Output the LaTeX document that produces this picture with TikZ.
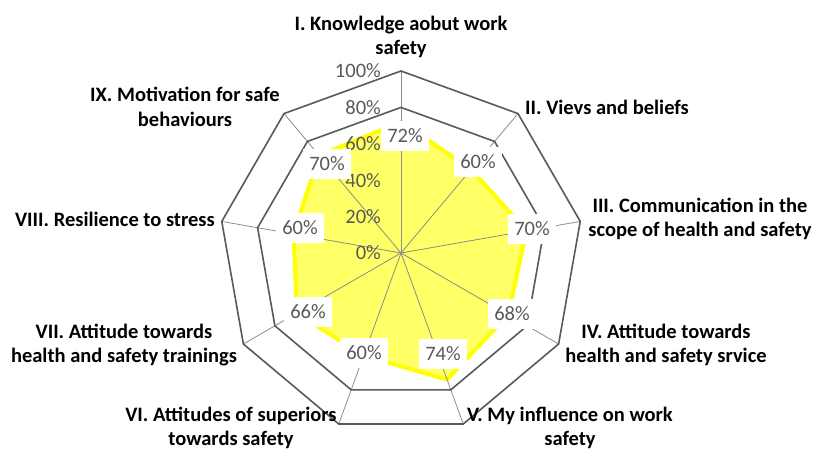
\documentclass[tikz,border=0pt]{standalone}
\usepackage{fontspec}
\setmainfont{Carlito}
\usetikzlibrary{calc}
\usetikzlibrary{positioning}

\definecolor{gridgray}{HTML}{595959}
\definecolor{spokegray}{HTML}{8C8C8C}
\definecolor{labelgray}{HTML}{595959}
\definecolor{areafill}{HTML}{FFFF66}
\definecolor{areaedge}{HTML}{FFFF00}

\begin{document}
\begin{tikzpicture}[
          x=1pt, y=1pt,
          gridring/.style={
            draw=gridgray,
            line width=1.6pt,
            line join=miter},
          gridspoke/.style={
            draw=spokegray,
            line width=0.8pt},
          dataarea/.style={
            fill=areafill,
            draw=areaedge,
            line width=4pt,
            line join=round},
          datalabel/.style={
            fill=white,
            text=labelgray,
            inner xsep=6pt,
            minimum height=30pt,
            font=\fontsize{20.5}{22}\selectfont},
          scalelabel/.style={
            text=labelgray,
            anchor=east,
            inner sep=0pt,
            font=\fontsize{20.5}{22}\selectfont},
          catlabel/.style={
            align=center,
            inner sep=0pt,
            font=\bfseries\fontsize{20.5}{24.5}\selectfont},
        ]
          \useasboundingbox (-401,-198) rectangle (412,253);

          % axes and data points
          \foreach \i in {0,...,8}
            \coordinate (a\i) at ({90-40*\i}:182);
          \foreach \v [count=\i from 0] in {72,60,70,68,74,60,66,60,70}
            \coordinate (p\i) at ({90-40*\i}:{1.82*\v});
          \coordinate (c) at (0,0);

          \draw[dataarea] (p0) -- (p1) -- (p2) -- (p3) -- (p4)
            -- (p5) -- (p6) -- (p7) -- (p8) -- cycle;

          \foreach \i in {0,...,8}
            \draw[gridspoke] (c) -- (a\i);

          \foreach \r in {145.6,182}
            \draw[gridring] (90:\r) \foreach \i in {1,...,8} { -- ({90-40*\i}:\r) } -- cycle;

          % scale
          \foreach \t in {0,20,...,100}
            \node[scalelabel] (s\t) at (-20,{1.82*\t}) {\t\%};

          % values
          \node[datalabel] (v1) at (4,117) {72\%};
          \node[datalabel] (v2) at (77,91) {60\%};
          \node[datalabel] (v3) at (131,24) {70\%};
          \node[datalabel] (v4) at (111,-61) {68\%};
          \node[datalabel] (v5) at (42,-101) {74\%};
          \node[datalabel] (v6) at (-37,-100) {60\%};
          \node[datalabel] (v7) at (-93,-59) {66\%};
          \node[datalabel] (v8) at (-101,25) {60\%};
          \node[datalabel] (v9) at (-74,89) {70\%};

          % categories
          \node[catlabel] (k1) at (0,216) {I. Knowledge aobut work\\safety};
          \node[catlabel, anchor=west] (k2) at (124,146) {II. Vievs and beliefs};
          \node[catlabel] (k3) at (299,34) {III. Communication in the\\scope of health and safety};
          \node[catlabel] (k4) at (265,-92) {IV. Attitude towards\\health and safety srvice};
          \node[catlabel] (k5) at (169,-175) {V. My influence on work\\safety};
          \node[catlabel] (k6) at (-170,-175) {VI. Attitudes of superiors\\towards safety};
          \node[catlabel] (k7) at (-277,-92) {VII. Attitude towards\\health and safety trainings};
          \node[catlabel, anchor=east] (k8) at (-186,34) {VIII. Resilience to stress};
          \node[catlabel] (k9) at (-216,146) {IX. Motivation for safe\\behaviours};
        \end{tikzpicture}
\end{document}
